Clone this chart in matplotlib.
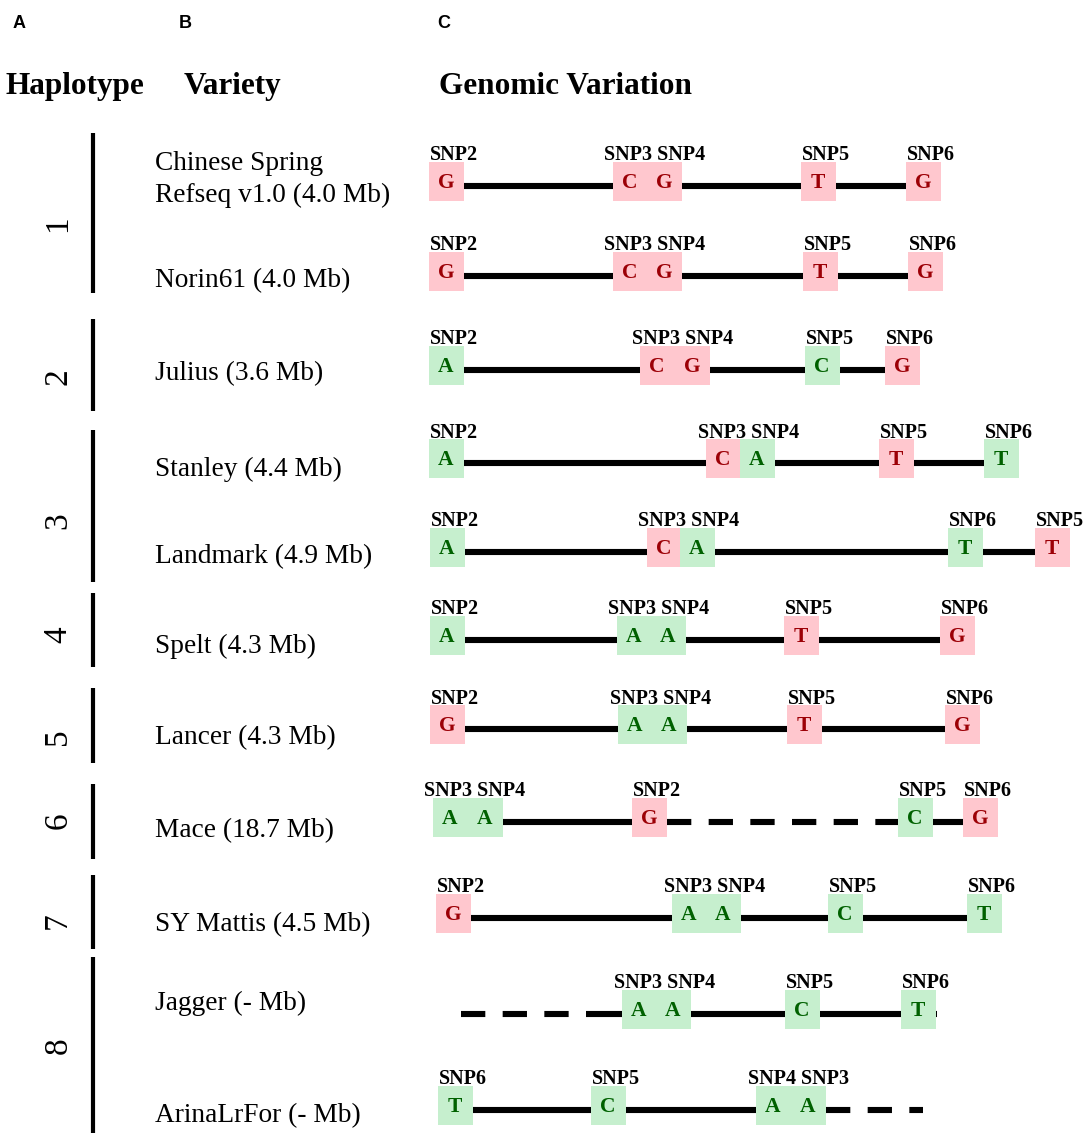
import matplotlib
matplotlib.use("Agg")
import matplotlib.pyplot as plt
from matplotlib.patches import Rectangle

plt.rcParams['lines.scale_dashes'] = False

# ---------------- data ----------------
varieties = ["Chinese Spring\nRefseq v1.0 (4.0 Mb)", "Norin61 (4.0 Mb)", "Julius (3.6 Mb)",
             "Stanley (4.4 Mb)", "Landmark (4.9 Mb)", "Spelt (4.3 Mb)", "Lancer (4.3 Mb)",
             "Mace (18.7 Mb)", "SY Mattis (4.5 Mb)", "Jagger (- Mb)", "ArinaLrFor (- Mb)"]
haplotype = [1, 1, 2, 3, 3, 4, 5, 6, 7, 8, 8]

reference_allele = {"SNP2": "G", "SNP3": "C", "SNP4": "G", "SNP5": "T", "SNP6": "G"}

snp_order = [
    ["SNP2", "SNP3", "SNP4", "SNP5", "SNP6"],
    ["SNP2", "SNP3", "SNP4", "SNP5", "SNP6"],
    ["SNP2", "SNP3", "SNP4", "SNP5", "SNP6"],
    ["SNP2", "SNP3", "SNP4", "SNP5", "SNP6"],
    ["SNP2", "SNP3", "SNP4", "SNP6", "SNP5"],
    ["SNP2", "SNP3", "SNP4", "SNP5", "SNP6"],
    ["SNP2", "SNP3", "SNP4", "SNP5", "SNP6"],
    ["SNP3", "SNP4", "SNP2", "SNP5", "SNP6"],
    ["SNP2", "SNP3", "SNP4", "SNP5", "SNP6"],
    ["SNP3", "SNP4", "SNP5", "SNP6"],
    ["SNP6", "SNP5", "SNP4", "SNP3"],
]
alleles = [
    ["G", "C", "G", "T", "G"],
    ["G", "C", "G", "T", "G"],
    ["A", "C", "G", "C", "G"],
    ["A", "C", "A", "T", "T"],
    ["A", "C", "A", "T", "T"],
    ["A", "A", "A", "T", "G"],
    ["G", "A", "A", "T", "G"],
    ["A", "A", "G", "C", "G"],
    ["G", "A", "A", "C", "T"],
    ["A", "A", "C", "T"],
    ["T", "C", "A", "A"],
]
# relative position of each SNP along the drawn region
snp_pos = [
    [446, 630, 664, 818, 923],
    [446, 630, 664, 820, 925],
    [446, 657, 692, 822, 902],
    [446, 723, 757, 896, 1001],
    [447, 664, 697, 965, 1052],
    [447, 634, 668, 801, 957],
    [447, 635, 669, 804, 962],
    [450, 485, 649, 915, 980],
    [453, 689, 723, 845, 984],
    [639, 673, 802, 918],
    [455, 608, 773, 808],
]
# style of the connecting segment between consecutive SNPs
gap_style = [
    ["s", "s", "s", "s"], ["s", "s", "s", "s"], ["s", "s", "s", "s"], ["s", "s", "s", "s"],
    ["s", "s", "s", "s"], ["s", "s", "s", "s"], ["s", "s", "s", "s"],
    ["s", "s", "d", "s"], ["s", "s", "s", "s"], ["s", "s", "s"], ["s", "s", "s"],
]
# unresolved (dashed) flanking extents
lead_dash = {9: (461, 610)}
tail_dash = {10: (826, 923)}

# ---------------- layout ----------------
row_y = [186, 276, 370, 463, 552, 640, 729, 822, 918, 1014, 1110]
text_base = [None, 287, 380, 476, 563, 653, 744, 837, 931, 1010, 1122]
hap_bars = {1: (133, 293), 2: (319, 411), 3: (430, 582), 4: (593, 667), 5: (688, 763),
            6: (784, 859), 7: (875, 949), 8: (957, 1133)}
hap_num_y = {1: 224, 2: 377, 3: 521, 4: 635, 5: 737, 6: 821, 7: 921, 8: 1046}

BOX_W, BOX_H = 35, 39
PINK, PINK_T = "#FFC7CE", "#9C0006"
GREEN, GREEN_T = "#C6EFCE", "#006100"
SERIF = "Liberation Serif"
LW = 4.4
DASH = (0, (17.5, 12.5))

fig = plt.figure(figsize=(10.84, 11.37), dpi=100)
ax = fig.add_axes([0, 0, 1, 1])
ax.set_xlim(0, 1084)
ax.set_ylim(1137, 0)
ax.axis("off")

# panel letters
for lab, x in zip(["A", "B", "C"], [13, 179, 437]):
    ax.text(x, 28, lab, fontsize=13, fontweight="bold", family="Liberation Sans",
            ha="left", va="baseline")

# column headers
for lab, x in zip(["Haplotype", "Variety", "Genomic Variation"], [5, 184, 439]):
    ax.text(x, 94, lab, fontsize=22.5, fontweight="bold", family=SERIF,
            ha="left", va="baseline")

# haplotype bars and numbers
for h, (y0, y1) in hap_bars.items():
    ax.plot([92.5, 92.5], [y0, y1], color="black", lw=3, solid_capstyle="butt")
    ax.text(58, hap_num_y[h], str(h), fontsize=24, family=SERIF, rotation=90,
            ha="center", va="center")

# variety labels
for i, name in enumerate(varieties):
    if i == 0:
        ax.text(155, 170, "Chinese Spring", fontsize=19.7, family=SERIF, ha="left", va="baseline")
        ax.text(155, 202, "Refseq v1.0 (4.0 Mb)", fontsize=19.7, family=SERIF, ha="left", va="baseline")
    else:
        ax.text(155, text_base[i], name, fontsize=19.7, family=SERIF, ha="left", va="baseline")

# genomic variation rows
for i in range(len(varieties)):
    y = row_y[i]
    xs = snp_pos[i]
    # connecting lines
    for j, st in enumerate(gap_style[i]):
        x0, x1 = xs[j], xs[j + 1]
        if st == "s":
            ax.plot([x0, x1], [y, y], color="black", lw=LW, solid_capstyle="butt", zorder=1)
        else:
            ax.plot([x0 + BOX_W / 2, x1 - BOX_W / 2], [y, y], color="black", lw=LW,
                    linestyle=DASH, dash_capstyle="butt", zorder=1)
    if i in lead_dash:
        a, b = lead_dash[i]
        ax.plot([a, b], [y, y], color="black", lw=LW, linestyle=DASH, dash_capstyle="butt", zorder=1)
        ax.plot([b, xs[0]], [y, y], color="black", lw=LW, solid_capstyle="butt", zorder=1)
        ax.plot([xs[-1], xs[-1] + BOX_W / 2 + 1], [y, y], color="black", lw=LW,
                solid_capstyle="butt", zorder=1)
    if i in tail_dash:
        a, b = tail_dash[i]
        ax.plot([a, b], [y, y], color="black", lw=LW, linestyle=DASH, dash_capstyle="butt", zorder=1)

    # boxes
    by = y - 5
    for name, al, x in zip(snp_order[i], alleles[i], xs):
        same = reference_allele[name] == al
        fc = PINK if same else GREEN
        tc = PINK_T if same else GREEN_T
        ax.add_patch(Rectangle((x - BOX_W / 2, by - BOX_H / 2), BOX_W, BOX_H,
                               facecolor=fc, edgecolor="none", zorder=2))
        ax.text(x, by + 2, al, fontsize=15.5, fontweight="bold", family=SERIF, color=tc,
                ha="center", va="center", zorder=3)

    # SNP labels (adjacent pairs share one label)
    j = 0
    top = by - BOX_H / 2 - 1
    while j < len(xs):
        if j + 1 < len(xs) and xs[j + 1] - xs[j] < BOX_W + 3:
            ax.text(xs[j] - BOX_W / 2 - 8, top, snp_order[i][j] + " " + snp_order[i][j + 1],
                    fontsize=14.5, fontweight="bold", family=SERIF, ha="left",
                    va="baseline", zorder=4)
            j += 2
        else:
            ax.text(xs[j] - BOX_W / 2 + 1, top, snp_order[i][j], fontsize=14.5,
                    fontweight="bold", family=SERIF, ha="left", va="baseline", zorder=4)
            j += 1

fig.savefig("out.png", dpi=100)
